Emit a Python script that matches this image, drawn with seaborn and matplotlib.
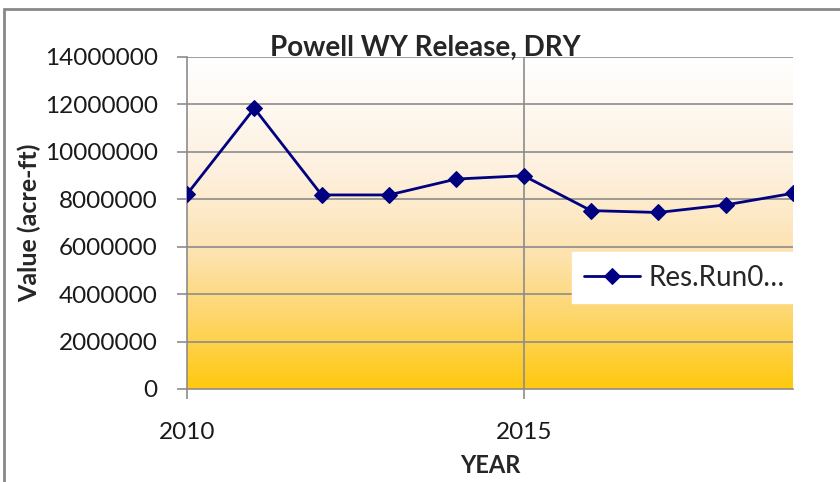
import numpy as np
import pandas as pd
import seaborn as sns
import matplotlib.pyplot as plt
from matplotlib.colors import LinearSegmentedColormap
from matplotlib.patches import Rectangle

# values
years = [2010, 2011, 2012, 2013, 2014, 2015, 2016, 2017, 2018, 2019]
release = [8210000, 11830000, 8180000, 8180000, 8850000, 8990000, 7520000, 7440000, 7760000, 8250000]
series_name = "Res.Run0\u2026"
y_ticks = [0, 2000000, 4000000, 6000000, 8000000, 10000000, 12000000, 14000000]
x_ticks = [2010, 2015]

df = pd.DataFrame({"YEAR": years, "Value": release, "series": series_name})

sns.set_style("white")
plt.rcParams["font.family"] = ["Lato", "DejaVu Sans"]

fig = plt.figure(figsize=(8.4, 4.82), dpi=100)
ax = fig.add_axes([0.2226, 0.193, 0.7214, 0.689])

# gradient background white (top) -> gold (bottom)
cmap = LinearSegmentedColormap.from_list(
    "gold", [(0, "#ffffff"), (0.35, "#fdf0de"), (0.6, "#fde2ae"), (0.8, "#fed565"), (1, "#ffc90e")])
grad = np.linspace(0, 1, 256).reshape(-1, 1)
ax.imshow(grad, cmap=cmap, aspect="auto", extent=[2010, 2019, 0, 14000000],
          origin="upper", zorder=0)

sns.lineplot(data=df, x="YEAR", y="Value", hue="series", palette=["#000080"],
             marker="D", markersize=8, markeredgecolor="#000080", linewidth=2,
             ax=ax, zorder=3)

ax.set_xlim(2010, 2019)
ax.set_ylim(0, 14000000)
ax.set_yticks(y_ticks)
ax.set_yticklabels([str(v) for v in y_ticks])
ax.set_xticks(x_ticks)
ax.set_xticklabels([str(v) for v in x_ticks])
for v in y_ticks[1:]:
    ax.axhline(v, color="#8c8c8c", lw=1.2, zorder=1)
ax.axvline(2015, color="#8c8c8c", lw=1.2, zorder=1)

for s in ["top", "right"]:
    ax.spines[s].set_visible(False)
ax.spines["left"].set_color("#8c8c8c")
ax.spines["bottom"].set_color("#8c8c8c")
ax.spines["left"].set_linewidth(1.2)
ax.spines["bottom"].set_linewidth(1.2)

ax.tick_params(axis="y", direction="out", length=7, width=1.2, color="#8c8c8c",
               labelsize=17.5, pad=14, left=True)
ax.tick_params(axis="x", direction="out", length=7, width=1.2, color="#8c8c8c",
               labelsize=17.5, pad=17, bottom=True)
for t in ax.get_xticklabels() + ax.get_yticklabels():
    t.set_color("#1a1a1a")

ax.set_xlabel("YEAR", fontsize=17, fontweight="bold", labelpad=8)
ax.set_ylabel("Value (acre-ft)", fontsize=18, fontweight="bold")
ax.yaxis.set_label_coords(-0.24, 0.5)

fig.text(0.506, 0.9, "Powell WY Release, DRY", ha="center", va="center",
         fontsize=20, fontweight="bold")

leg = ax.legend(loc="upper left", bbox_to_anchor=(0.635, 0.412), fontsize=20,
                frameon=True, fancybox=False, handlelength=2.0, borderpad=0.45,
                handletextpad=0.3, borderaxespad=0)
leg.get_frame().set_facecolor("white")
leg.get_frame().set_edgecolor("white")
leg.get_frame().set_alpha(1)

# outer chart frame
fig.patches.append(Rectangle((4 / 840, -0.1), 1.2, 1 - 9 / 482 + 0.1, transform=fig.transFigure,
                             fill=False, edgecolor="#888888", lw=2))

plt.savefig("out.png", dpi=100)
